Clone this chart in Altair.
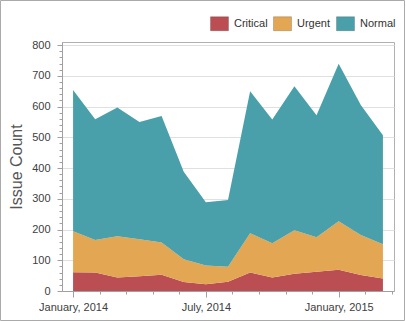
import altair as alt
import pandas as pd

# ---- data ----
month_index = list(range(15))          # Jan 2014 .. Mar 2015
critical = [61, 60, 44, 48, 53, 29, 22, 30, 60, 44, 56, 63, 69, 52, 41]
urgent = [133, 106, 134, 120, 105, 74, 61, 49, 128, 111, 142, 112, 158, 130, 111]
normal = [460, 393, 419, 382, 411, 285, 206, 217, 462, 403, 468, 397, 512, 423, 355]
series = ["Critical", "Urgent", "Normal"]
colors = ["#BA4E52", "#E3A652", "#4AA0AA"]
x_label_pos = [0, 6, 12]
x_label_text = ["January, 2014", "July, 2014", "January, 2015"]
x_tick_values = [round(i * 1.2, 1) for i in range(13)]
y_tick_values = list(range(0, 801, 20))

rows = []
for k, (name, vals) in enumerate(zip(series, [critical, urgent, normal])):
    for m, v in zip(month_index, vals):
        rows.append({"m": m, "series": name, "count": v, "ord": k})
df = pd.DataFrame(rows)

label_expr = " : ".join(
    f"datum.value == {p} ? '{t}'" for p, t in zip(x_label_pos, x_label_text)
) + " : ''"

FONT = "Liberation Sans"

area = alt.Chart(df).mark_area(interpolate="linear", opacity=1).encode(
    x=alt.X(
        "m:Q",
        scale=alt.Scale(domain=[-0.5, 14.5], nice=False, zero=False),
        axis=alt.Axis(
            values=x_tick_values,
            labelExpr=label_expr,
            title=None,
            grid=False,
            labelOverlap=False,
            labelBound=False,
            labelFlush=False,
            tickSize={"condition": {"test": "datum.value % 6 == 0", "value": 6}, "value": 3},
            labelPadding=4,
        ),
    ),
    y=alt.Y(
        "count:Q",
        stack="zero",
        scale=alt.Scale(domain=[0, 810], nice=False),
        axis=alt.Axis(
            values=y_tick_values,
            labelExpr="datum.value % 100 == 0 ? datum.label : ''",
            title="Issue Count",
            gridOpacity={"condition": {"test": "datum.value % 100 == 0", "value": 1}, "value": 0},
            tickSize={"condition": {"test": "datum.value % 100 == 0", "value": 5}, "value": 3},
            labelPadding=7,
            titlePadding=7,
        ),
    ),
    color=alt.Color(
        "series:N",
        scale=alt.Scale(domain=series, range=colors),
        legend=alt.Legend(
            title=None,
            orient="none",
            legendX=148,
            legendY=-28,
            direction="horizontal",
            symbolType="M-1,-0.78H1V0.78H-1Z",
            symbolSize=324,
            symbolStrokeColor="rgba(0,0,0,0.18)",
            symbolStrokeWidth=1,
            symbolOpacity=1,
            labelFontSize=11,
            labelFont=FONT,
            labelColor="#333333",
            labelOffset=5,
            columnPadding=3,
        ),
    ),
    order=alt.Order("ord:Q"),
)

border = alt.Chart(pd.DataFrame({"a": [0]})).mark_rect(
    fill="transparent", stroke="#aaaaaa", strokeWidth=1
).encode(
    x=alt.value(-61.5), x2=alt.value(342.5), y=alt.value(-41.5), y2=alt.value(278.5)
)

chart = alt.layer(area, border).properties(
    width=332,
    height=249,
    autosize=alt.AutoSizeParams(type="none"),
    padding={"left": 62, "top": 42, "right": 12, "bottom": 30},
    background="white",
).configure_view(
    stroke="#b0b0b0", strokeWidth=1
).configure_axis(
    labelFont=FONT,
    labelFontSize=11,
    labelColor="#404040",
    titleFont=FONT,
    titleFontSize=16,
    titleFontWeight="normal",
    titleColor="#555555",
    domainColor="#a0a0a0",
    tickColor="#a0a0a0",
    gridColor="#e0e0e0",
)

chart.save("out.html", embed_options={"renderer": "svg", "actions": False})
